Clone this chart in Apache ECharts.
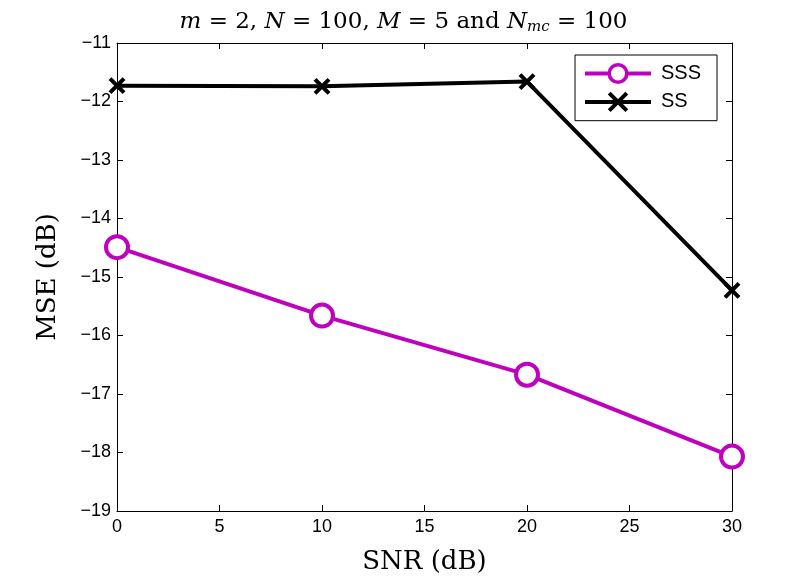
<!DOCTYPE html>
<html>
<head>
<meta charset="utf-8">
<script src="https://cdn.jsdelivr.net/npm/echarts@6/dist/echarts.min.js"></script>
<style>
  html, body { margin: 0; padding: 0; background: #fff; }
  #chart { width: 807px; height: 580px; }
</style>
</head>
<body>
<div id="chart"></div>
<script>
// values
const snr = [0, 10, 20, 30];
const sss = [-14.49, -15.66, -16.67, -18.07];
const ss = [-11.73, -11.74, -11.66, -15.23];

const crossPath = "path://M0,0L10,10M10,0L0,10";
const minus = v => String(v).replace("-", "\u2212");

const chart = echarts.init(document.getElementById("chart"));

const tickStyle = { show: true, inside: true, length: 6, lineStyle: { color: "#000", width: 1 } };
const lineStyle = { show: true, onZero: false, lineStyle: { color: "#000", width: 1 } };

chart.setOption({
  animation: false,
  title: {
    text: "{i|m} = 2, {i|N} = 100, {i|M} = 5 and {i|N}{sub|mc} = 100",
    left: "center",
    top: 4,
    textStyle: {
      fontFamily: "DejaVu Serif",
      fontSize: 23,
      fontWeight: "normal",
      color: "#000",
      rich: {
        i: { fontFamily: "DejaVu Serif", fontStyle: "italic", fontSize: 23, color: "#000" },
        sub: { fontFamily: "DejaVu Serif", fontStyle: "italic", fontSize: 15, color: "#000", padding: [11, 0, 0, 0] }
      }
    }
  },
  grid: { left: 117, right: 75, top: 43, bottom: 67 },
  legend: {
    orient: "vertical",
    left: 575,
    top: 55,
    padding: [8, 16, 8, 8],
    itemGap: 7,
    itemWidth: 66,
    itemHeight: 22,
    borderColor: "#000",
    borderWidth: 1,
    backgroundColor: "#fff",
    textStyle: { fontFamily: "Liberation Sans", fontSize: 20, color: "#000", padding: [0, 0, 0, 5] },
    data: [
      { name: "SSS", lineStyle: { width: 4 }, itemStyle: { borderWidth: 3.5 } },
      { name: "SS", lineStyle: { width: 4 }, itemStyle: { borderWidth: 4 } }
    ]
  },
  xAxis: [
    {
      type: "value",
      min: 0,
      max: 30,
      interval: 5,
      name: "SNR (dB)",
      nameLocation: "middle",
      nameGap: 38,
      nameTextStyle: { fontFamily: "DejaVu Serif", fontSize: 26, color: "#000" },
      axisLine: lineStyle,
      axisTick: tickStyle,
      splitLine: { show: false },
      axisLabel: { fontFamily: "Liberation Sans", fontSize: 18, color: "#000", margin: 7 }
    },
    {
      type: "value",
      position: "top",
      min: 0,
      max: 30,
      interval: 5,
      axisLine: lineStyle,
      axisTick: tickStyle,
      splitLine: { show: false },
      axisLabel: { show: false }
    }
  ],
  yAxis: [
    {
      type: "value",
      min: -19,
      max: -11,
      interval: 1,
      name: "MSE (dB)",
      nameLocation: "middle",
      nameGap: 56,
      nameTextStyle: { fontFamily: "DejaVu Serif", fontSize: 26, color: "#000" },
      axisLine: lineStyle,
      axisTick: tickStyle,
      splitLine: { show: false },
      axisLabel: { fontFamily: "Liberation Sans", fontSize: 18, color: "#000", margin: 6, formatter: minus }
    },
    {
      type: "value",
      position: "right",
      min: -19,
      max: -11,
      interval: 1,
      axisLine: lineStyle,
      axisTick: tickStyle,
      splitLine: { show: false },
      axisLabel: { show: false }
    }
  ],
  series: [
    {
      name: "SSS",
      type: "line",
      data: snr.map((x, i) => [x, sss[i]]),
      symbol: "circle",
      symbolSize: 22,
      lineStyle: { color: "#bf00bf", width: 4 },
      itemStyle: { color: "#fff", borderColor: "#bf00bf", borderWidth: 4 },
      z: 3
    },
    {
      name: "SS",
      type: "line",
      data: snr.map((x, i) => [x, ss[i]]),
      symbol: crossPath,
      symbolSize: 14,
      lineStyle: { color: "#000", width: 4 },
      itemStyle: { color: "#000", borderColor: "#000", borderWidth: 4 },
      z: 3
    }
  ]
});
</script>
</body>
</html>
